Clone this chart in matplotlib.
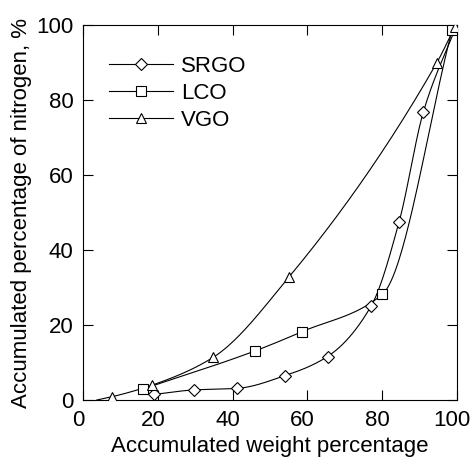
import numpy as np
import matplotlib
matplotlib.use("Agg")
import matplotlib.pyplot as plt
from matplotlib.transforms import ScaledTranslation

plt.rcParams['font.family'] = ['Liberation Sans', 'DejaVu Sans']

# Data
srgo_x = [19.0, 29.7, 41.1, 54.0, 65.4, 77.1, 84.6, 91.1, 100.0]
srgo_y = [1.5, 2.7, 3.1, 6.5, 11.6, 25.1, 47.6, 76.9, 100.0]

lco_x = [15.9, 46.0, 58.5, 80.1, 98.8]
lco_y = [2.9, 13.1, 18.2, 28.2, 98.8]

vgo_x = [3.6, 7.8, 18.5, 34.8, 55.0, 94.6, 99.5]
vgo_y = [0.0, 0.9, 4.0, 11.4, 32.7, 89.8, 99.5]
vgo_marks = [1, 2, 3, 4, 5, 6]

labels = ["SRGO", "LCO", "VGO"]
xticks = [0, 20, 40, 60, 80, 100]
yticks = [0, 20, 40, 60, 80, 100]


def smooth(x, y, n=40):
    """Cubic Hermite curve through the points (monotone tangents)."""
    x = np.asarray(x, float)
    y = np.asarray(y, float)
    h = np.diff(x)
    d = np.diff(y) / h
    m = np.zeros_like(y)
    m[0] = d[0]
    m[-1] = d[-1]
    for i in range(1, len(x) - 1):
        if d[i - 1] * d[i] <= 0:
            m[i] = 0
        else:
            w1 = 2 * h[i] + h[i - 1]
            w2 = h[i] + 2 * h[i - 1]
            m[i] = (w1 + w2) / (w1 / d[i - 1] + w2 / d[i])
    xs, ys = [], []
    for i in range(len(x) - 1):
        t = np.linspace(0, 1, n, endpoint=(i == len(x) - 2))
        h00 = 2 * t**3 - 3 * t**2 + 1
        h10 = t**3 - 2 * t**2 + t
        h01 = -2 * t**3 + 3 * t**2
        h11 = t**3 - t**2
        xs.append(x[i] + t * h[i])
        ys.append(h00 * y[i] + h10 * h[i] * m[i] + h01 * y[i + 1] + h11 * h[i] * m[i + 1])
    return np.concatenate(xs), np.concatenate(ys)


fig = plt.figure(figsize=(4.71, 4.59), dpi=100)
ax = fig.add_axes([0.177, 0.1285, 0.7926, 0.817])

lw = 0.8
fs = 16
styles = [("D", 6.0), ("s", 7.0), ("^", 7.5)]
series = [(srgo_x, srgo_y, None), (lco_x, lco_y, None), (vgo_x, vgo_y, vgo_marks)]

for (xv, yv, marks), (mk, ms), lab in zip(series, styles, labels):
    sx, sy = smooth(xv, yv)
    ax.plot(sx, sy, color="black", lw=lw, zorder=2)
    if marks is None:
        mx, my = xv, yv
    else:
        mx = [xv[i] for i in marks]
        my = [yv[i] for i in marks]
    ax.plot(mx, my, linestyle="none", marker=mk, ms=ms, mfc="white",
            mec="black", mew=0.8, zorder=3)
    ax.plot([], [], color="black", lw=lw, marker=mk, ms=ms, mfc="white",
            mec="black", mew=0.8, label=lab)

ax.set_xlim(0, 100)
ax.set_ylim(0, 100)
ax.set_xticks(xticks)
ax.set_yticks(yticks)
ax.tick_params(direction="in", length=7, width=0.8, top=True, right=True,
               labelsize=fs, pad=7)
for s in ax.spines.values():
    s.set_linewidth(0.8)

shift = ScaledTranslation(-5 / 100, 0, fig.dpi_scale_trans)
for lbl in ax.get_xticklabels():
    lbl.set_transform(lbl.get_transform() + shift)

ax.set_xlabel("Accumulated weight percentage", fontsize=fs, labelpad=4)
ax.set_ylabel("Accumulated percentage of nitrogen, %", fontsize=fs, labelpad=3)

ax.legend(loc="upper left", bbox_to_anchor=(0.069, 0.918), frameon=False,
          fontsize=fs, handlelength=2.86, handletextpad=0.36, labelspacing=0.27,
          borderpad=0, borderaxespad=0)

fig.savefig("out.png", dpi=100)
